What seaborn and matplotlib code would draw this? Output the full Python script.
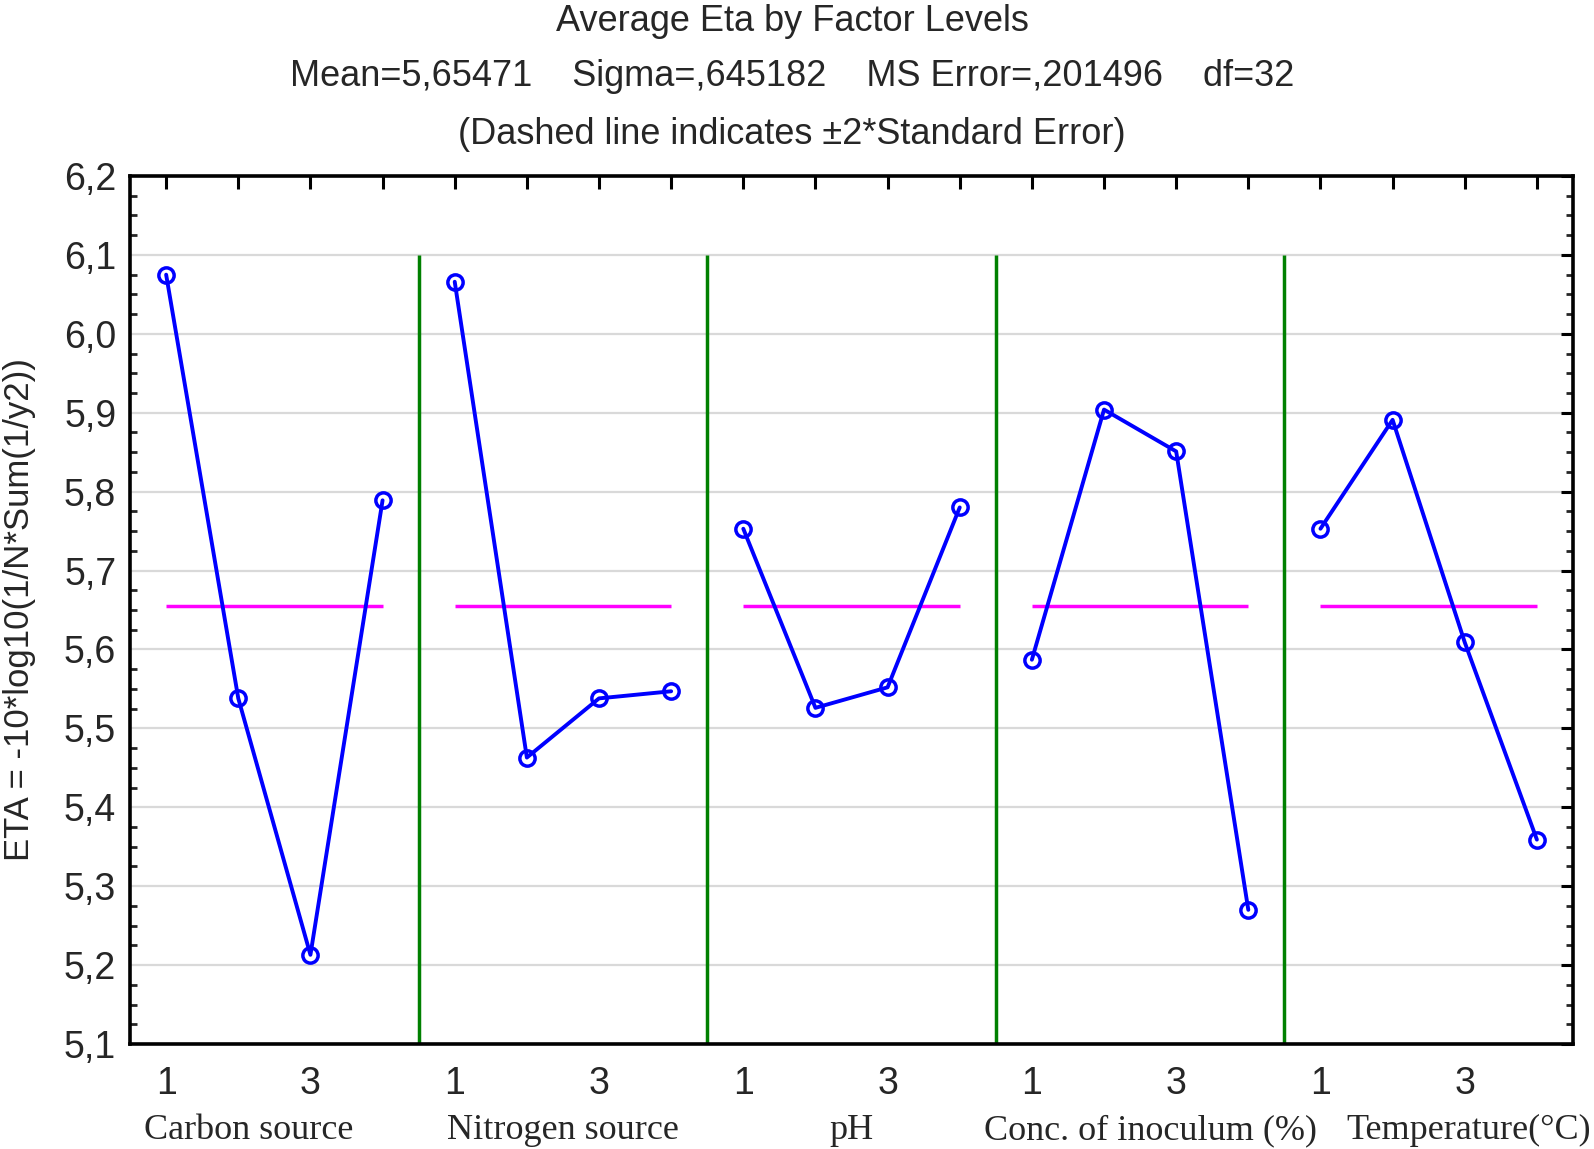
import numpy as np
import pandas as pd
import matplotlib
matplotlib.use("Agg")
import matplotlib.pyplot as plt
import seaborn as sns
from matplotlib.ticker import MultipleLocator, FuncFormatter

# Data
factors = ["Carbon source", "Nitrogen source", "pH",
           "Conc. of inoculum (%)", "Temperature(\u00b0C)"]
levels = [1, 2, 3, 4]
carbon = [6.075, 5.538, 5.213, 5.789]
nitrogen = [6.066, 5.463, 5.538, 5.547]
ph = [5.753, 5.526, 5.552, 5.780]
inoculum = [5.587, 5.904, 5.851, 5.270]
temperature = [5.753, 5.891, 5.609, 5.359]
grand_mean = 5.65471
tick_labels = ["1", "", "3", ""]

series = [carbon, nitrogen, ph, inoculum, temperature]
rows = []
for i, (name, vals) in enumerate(zip(factors, series)):
    for j, (lev, v) in enumerate(zip(levels, vals)):
        rows.append({"factor": name, "pos": i * len(levels) + j, "eta": v})
df = pd.DataFrame(rows)

sns.set_style("white")
plt.rcParams["font.family"] = ["Liberation Sans", "DejaVu Sans"]

fig = plt.figure(figsize=(15.94, 11.49), dpi=100)
ax = fig.add_axes([0.0816, 0.0914, 0.9052, 0.7554])

# grid
for y in np.arange(5.2, 6.15, 0.1):
    ax.axhline(y, color="#d9d9d9", lw=1.6, zorder=0)

# group separators and mean lines
n = len(levels)
for i in range(len(factors)):
    if i > 0:
        ax.vlines(i * n - 0.5, 5.1, 6.1, color="#008000", lw=2.5, zorder=1)
    ax.hlines(grand_mean, i * n, i * n + n - 1, color="#ff00ff", lw=2.5, zorder=2)

sns.lineplot(data=df, x="pos", y="eta", units="factor", estimator=None,
             color="#0000ff", lw=2.8, marker="o", markersize=11,
             markerfacecolor="none", markeredgecolor="#0000ff",
             markeredgewidth=2.5, ax=ax, zorder=3, sort=False)

ax.set_xlim(-0.5, len(factors) * n - 0.5)
ax.set_ylim(5.1, 6.2)
ax.set_xlabel("")
ax.set_ylabel("ETA = -10*log10(1/N*Sum(1/y2))", fontsize=25)
ax.yaxis.set_label_coords(-0.065, 0.5)

ax.set_xticks(range(len(factors) * n))
ax.set_xticklabels(tick_labels * len(factors))
ax.yaxis.set_major_locator(MultipleLocator(0.1))
ax.yaxis.set_minor_locator(MultipleLocator(0.025))
ax.yaxis.set_major_formatter(FuncFormatter(lambda v, p: f"{v:.1f}".replace(".", ",")))
ax.tick_params(axis="both", which="major", direction="in", length=9, width=2.2,
               top=True, right=True, labelsize=27, color="black")
ax.tick_params(axis="y", which="minor", direction="in", length=5, width=2,
               left=True, right=True)
ax.tick_params(axis="x", pad=16)
ax.tick_params(axis="y", pad=10)
for s in ax.spines.values():
    s.set_color("black")
    s.set_linewidth(2.6)

# factor names under the axis
label_pos = [1.15, 5.5, 9.5, 13.65, 18.05]
for name, x in zip(factors, label_pos):
    ax.text(x, -0.1, name, transform=ax.get_xaxis_transform(),
            ha="center", va="center", fontsize=26, family="Liberation Serif")

fig.text(0.497, 0.981, "Average Eta by Factor Levels", ha="center", va="center", fontsize=26)
fig.text(0.497, 0.933, "Mean=5,65471    Sigma=,645182    MS Error=,201496    df=32",
         ha="center", va="center", fontsize=26)
fig.text(0.497, 0.883, "(Dashed line indicates \u00b12*Standard Error)",
         ha="center", va="center", fontsize=26)

fig.savefig("out.png", dpi=100)
